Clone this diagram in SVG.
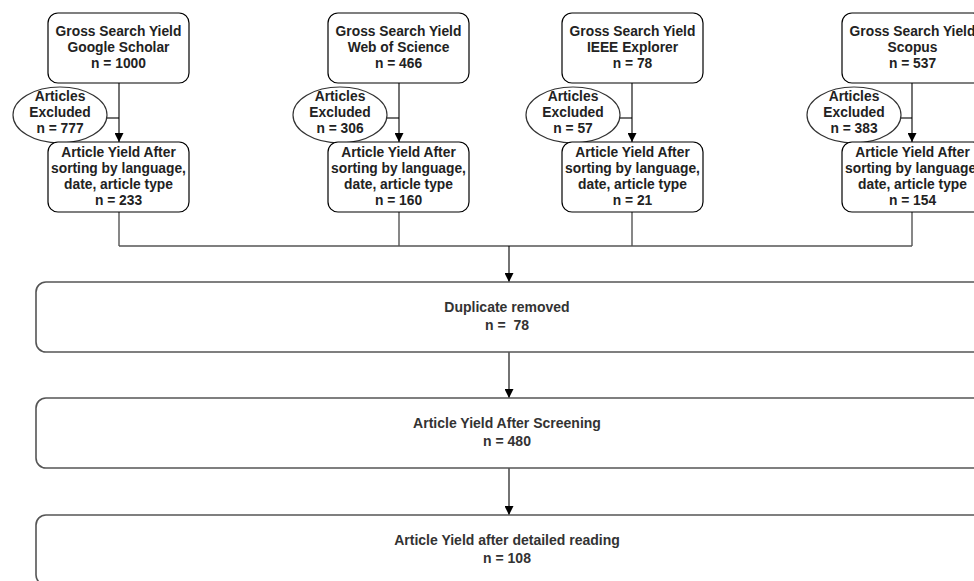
<svg xmlns="http://www.w3.org/2000/svg" width="974" height="581" viewBox="0 0 974 581">
<style>
.bx{fill:#fff;stroke:#000;stroke-width:1.2}
.big{fill:#fff;stroke:#555;stroke-width:1.6}
.el{fill:#fff;stroke:#333;stroke-width:1.2}
.t{font-family:"Liberation Sans",Arial,sans-serif;font-size:13.8px;font-weight:bold;fill:#222;text-anchor:middle}
.tb{font-family:"Liberation Sans",Arial,sans-serif;font-size:14px;font-weight:bold;fill:#333;text-anchor:middle}
.ln{fill:none;stroke:#000;stroke-width:1.1}
.lg{fill:none;stroke:#555;stroke-width:1.4}
</style>
<defs>
<marker id="ah" viewBox="0 0 10 10" refX="10" refY="5" markerWidth="9" markerHeight="9" markerUnits="userSpaceOnUse" orient="auto">
<path d="M0,0 L10,5 L0,10 z" fill="#000"/>
</marker>
</defs>
<rect width="974" height="581" fill="#fff"/>
<g id="connectors">
<path class="ln" d="M119,83 V142" marker-end="url(#ah)"/>
<path class="ln" d="M399,83 V142" marker-end="url(#ah)"/>
<path class="ln" d="M632,83 V142" marker-end="url(#ah)"/>
<path class="ln" d="M912,83 V142" marker-end="url(#ah)"/>
<path class="ln" d="M107,118 H119"/>
<path class="ln" d="M387,118 H399"/>
<path class="ln" d="M620,118 H632"/>
<path class="ln" d="M901,118 H912"/>
<path class="lg" d="M119,212 V246 M399,212 V246 M632,212 V246 M912,212 V246 M119,246 H912"/>
<path class="ln" d="M509,246 V282" marker-end="url(#ah)"/>
<path class="ln" d="M509,352 V398" marker-end="url(#ah)"/>
<path class="ln" d="M509,468 V515" marker-end="url(#ah)"/>
</g>
<g id="gs-google">
<rect class="bx" x="48" y="13" width="141" height="70" rx="10"/>
<text class="t" x="118.5" y="36">Gross Search Yield</text>
<text class="t" x="118.5" y="52">Google Scholar</text>
<text class="t" x="118.5" y="68">n = 1000</text>
</g>
<g id="ex-google">
<ellipse class="el" cx="60" cy="115" rx="47" ry="28"/>
<text class="t" x="60" y="101">Articles</text>
<text class="t" x="60" y="117">Excluded</text>
<text class="t" x="60" y="133">n = 777</text>
</g>
<g id="ay-google">
<rect class="bx" x="48" y="142" width="141" height="70" rx="10"/>
<text class="t" x="118.5" y="157">Article Yield After</text>
<text class="t" x="118.5" y="173">sorting by language,</text>
<text class="t" x="118.5" y="189">date, article type</text>
<text class="t" x="118.5" y="205">n = 233</text>
</g>
<g id="gs-wos">
<rect class="bx" x="328" y="13" width="141" height="70" rx="10"/>
<text class="t" x="398.5" y="36">Gross Search Yield</text>
<text class="t" x="398.5" y="52">Web of Science</text>
<text class="t" x="398.5" y="68">n = 466</text>
</g>
<g id="ex-wos">
<ellipse class="el" cx="340" cy="115" rx="47" ry="28"/>
<text class="t" x="340" y="101">Articles</text>
<text class="t" x="340" y="117">Excluded</text>
<text class="t" x="340" y="133">n = 306</text>
</g>
<g id="ay-wos">
<rect class="bx" x="328" y="142" width="141" height="70" rx="10"/>
<text class="t" x="398.5" y="157">Article Yield After</text>
<text class="t" x="398.5" y="173">sorting by language,</text>
<text class="t" x="398.5" y="189">date, article type</text>
<text class="t" x="398.5" y="205">n = 160</text>
</g>
<g id="gs-ieee">
<rect class="bx" x="562" y="13" width="141" height="70" rx="10"/>
<text class="t" x="632.5" y="36">Gross Search Yield</text>
<text class="t" x="632.5" y="52">IEEE Explorer</text>
<text class="t" x="632.5" y="68">n = 78</text>
</g>
<g id="ex-ieee">
<ellipse class="el" cx="573" cy="115" rx="47" ry="28"/>
<text class="t" x="573" y="101">Articles</text>
<text class="t" x="573" y="117">Excluded</text>
<text class="t" x="573" y="133">n = 57</text>
</g>
<g id="ay-ieee">
<rect class="bx" x="562" y="142" width="141" height="70" rx="10"/>
<text class="t" x="632.5" y="157">Article Yield After</text>
<text class="t" x="632.5" y="173">sorting by language,</text>
<text class="t" x="632.5" y="189">date, article type</text>
<text class="t" x="632.5" y="205">n = 21</text>
</g>
<g id="gs-scopus">
<rect class="bx" x="842" y="13" width="141" height="70" rx="10"/>
<text class="t" x="912.5" y="36">Gross Search Yield</text>
<text class="t" x="912.5" y="52">Scopus</text>
<text class="t" x="912.5" y="68">n = 537</text>
</g>
<g id="ex-scopus">
<ellipse class="el" cx="854" cy="115" rx="47" ry="28"/>
<text class="t" x="854" y="101">Articles</text>
<text class="t" x="854" y="117">Excluded</text>
<text class="t" x="854" y="133">n = 383</text>
</g>
<g id="ay-scopus">
<rect class="bx" x="842" y="142" width="141" height="70" rx="10"/>
<text class="t" x="912.5" y="157">Article Yield After</text>
<text class="t" x="912.5" y="173">sorting by language,</text>
<text class="t" x="912.5" y="189">date, article type</text>
<text class="t" x="912.5" y="205">n = 154</text>
</g>
<g id="duplicates">
<rect class="big" x="36" y="282" width="960" height="70" rx="10"/>
<text class="tb" x="507" y="312">Duplicate removed</text>
<text class="tb" x="507" y="330" style="white-space:pre">n =  78</text>
</g>
<g id="screening">
<rect class="big" x="36" y="398" width="960" height="70" rx="10"/>
<text class="tb" x="507" y="428">Article Yield After Screening</text>
<text class="tb" x="507" y="446">n = 480</text>
</g>
<g id="reading">
<rect class="big" x="36" y="515" width="960" height="70" rx="10"/>
<text class="tb" x="507" y="545">Article Yield after detailed reading</text>
<text class="tb" x="507" y="563">n = 108</text>
</g>
</svg>
